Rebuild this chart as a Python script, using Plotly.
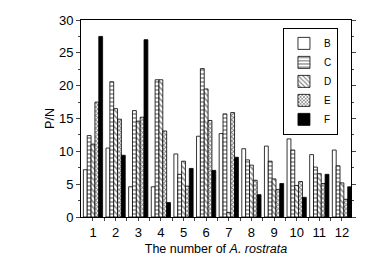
import plotly.graph_objects as go

groups = list(range(1, 13))
series_names = ["B", "C", "D", "E", "F"]
B = [7.2, 10.5, 4.6, 4.6, 9.6, 12.3, 12.7, 10.4, 10.8, 11.9, 9.5, 10.2]
C = [12.4, 20.6, 16.2, 20.9, 6.5, 22.6, 15.7, 8.7, 8.5, 10.2, 7.6, 7.8]
D = [11.1, 16.5, 14.6, 20.9, 8.5, 19.5, 0.7, 7.9, 5.8, 4.8, 6.6, 5.2]
E = [17.5, 14.9, 15.2, 13.1, 4.7, 14.7, 15.9, 5.6, 4.2, 5.4, 5.1, 2.7]
F = [27.5, 9.4, 27.0, 2.2, 7.4, 7.1, 9.1, 3.4, 5.1, 3.0, 6.5, 4.6]
values = [B, C, D, E, F]
patterns = ["", "-", "\\", "x", ""]
fills = ["white", "white", "white", "white", "black"]

fig = go.Figure()
for name, vals, pat, fill in zip(series_names, values, patterns, fills):
    fig.add_trace(go.Bar(
        x=groups, y=vals, name=name,
        marker=dict(color=fill, line=dict(color="black", width=0.8),
                    pattern=dict(shape=pat, fgcolor="black", bgcolor=fill,
                                 size=3 if pat == "x" else 4,
                                 solidity=0.5 if pat == "x" else 0.35)),
    ))

fig.update_layout(
    width=383, height=259,
    margin=dict(l=73, r=40, t=12, b=50),
    paper_bgcolor="white", plot_bgcolor="white",
    barmode="group", bargap=0.15, bargroupgap=0,
    font=dict(family="Liberation Sans, Arial, sans-serif", size=11, color="black"),
    showlegend=True,
    legend=dict(x=0.748, y=0.96, xanchor="left", yanchor="top",
                bgcolor="white", bordercolor="black", borderwidth=1,
                font=dict(size=10), itemwidth=30, tracegroupgap=0),
    xaxis=dict(range=[0.47, 12.4], tickmode="array", tickvals=groups,
               ticktext=[str(g) for g in groups], showline=True, linecolor="black",
               linewidth=1, mirror=True, ticks="outside", ticklen=3,
               showgrid=False, zeroline=False, automargin=False,
               tickfont=dict(size=13),
               minor=dict(tickvals=[g + 0.5 for g in groups], ticks="outside",
                          ticklen=3, showgrid=False),
               title=dict(text="The number of <i>A. rostrata</i>", font=dict(size=12.5), standoff=5)),
    yaxis=dict(range=[0, 30], dtick=5, showline=True, linecolor="black", linewidth=1,
               mirror="allticks", ticks="outside", ticklen=4, showgrid=False,
               zeroline=False, tickfont=dict(size=13), automargin=False,
               minor=dict(dtick=2.5, ticks="outside", ticklen=2, showgrid=False),
               title=dict(text="P/N", font=dict(size=12.5), standoff=1)),
)

fig.write_html("out.html")
